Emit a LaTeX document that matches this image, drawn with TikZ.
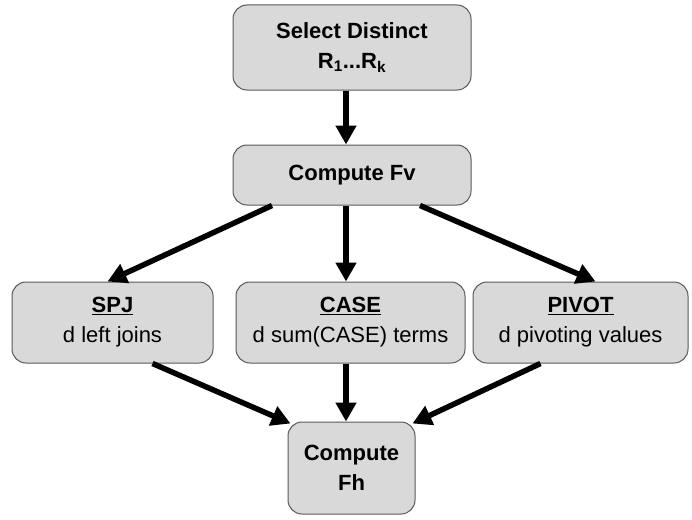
\documentclass[tikz,border=0pt]{standalone}
\usepackage{fontspec}
\setmainfont{Liberation Sans}
\usetikzlibrary{arrows.meta}
\begin{document}
\begin{tikzpicture}[x=1pt,y=-1pt,
  box/.style={draw=black!65, line width=1pt, fill=black!15, rounded corners=14pt, align=center, font=\fontsize{22}{30}\selectfont, inner sep=0pt},
  arr/.style={line width=5.5pt, -{Triangle[length=19pt,width=20pt]}}]
\useasboundingbox (0,0) rectangle (692,519);
\node[box, minimum width=238pt, minimum height=85pt] (sel) at (352,47.5) {\textbf{Select Distinct}\\\textbf{R\textsubscript{1}...R\textsubscript{k}}};
\node[box, minimum width=238pt, minimum height=60pt] (fv) at (352,175) {\textbf{Compute Fv}};
\node[box, minimum width=201pt, minimum height=81pt] (spj) at (112.5,322.5) {\textbf{\underline{SPJ}}\\d left joins};
\node[box, minimum width=229pt, minimum height=81pt] (case) at (350.5,322.5) {\textbf{\underline{CASE}}\\d sum(CASE) terms};
\node[box, minimum width=215pt, minimum height=81pt] (pivot) at (580.5,322.5) {\textbf{\underline{PIVOT}}\\d pivoting values};
\node[box, minimum width=127pt, minimum height=92pt] (fh) at (351.5,468) {\textbf{Compute}\\\textbf{Fh}};
\draw[arr] (sel.south -| 346,0) -- (fv.north -| 346,0);
\draw[arr] (fv.south -| 346,0) -- (case.north -| 346,0);
\draw[arr] ([xshift=-80pt]fv.south) -- ([xshift=-5pt]spj.north);
\draw[arr] ([xshift=68pt]fv.south) -- ([xshift=15pt]pivot.north);
\draw[arr] ([xshift=40pt]spj.south) -- ([xshift=3pt,yshift=-2pt]fh.north west);
\draw[arr] (case.south -| 346,0) -- (fh.north -| 346,0);
\draw[arr] ([xshift=-40pt]pivot.south) -- ([xshift=-3pt,yshift=-2pt]fh.north east);
\end{tikzpicture}
\end{document}
